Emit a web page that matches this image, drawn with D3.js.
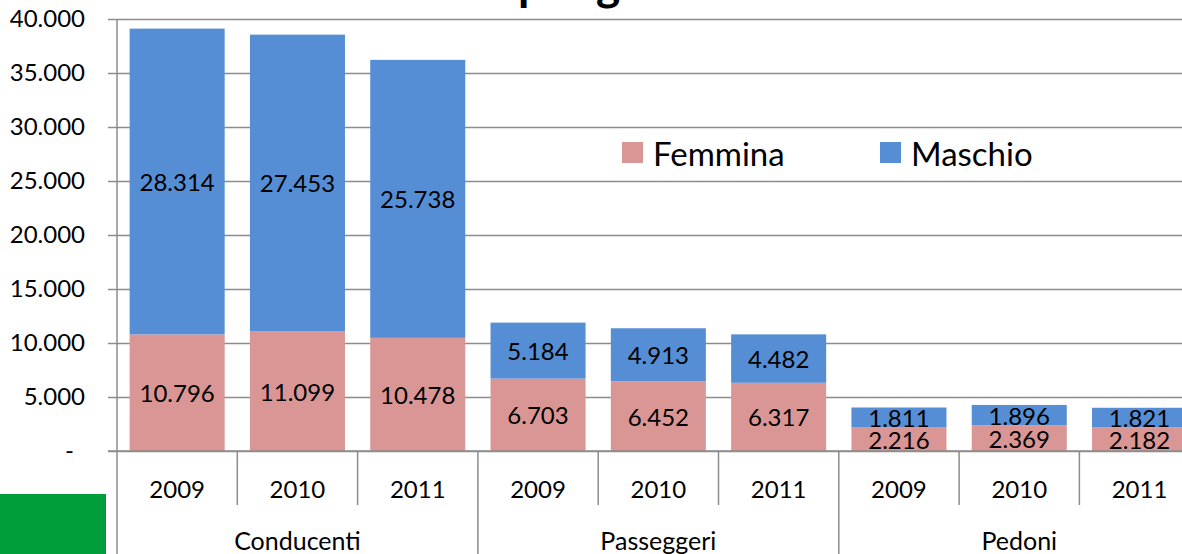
<!DOCTYPE html>
<html>
  <head>
    <meta charset="utf-8">
    <title>Feriti per genere</title>
    <script src="https://d3js.org/d3.v7.min.js"></script>
  </head>
  <style>
    body { margin: 0; background: #fff; }
    text { font-family: Lato, "Open Sans", sans-serif; fill: #000; }
    .grid-line { stroke: #8c8c8c; stroke-width: 1.5px; }
    .axis-line { stroke: #8c8c8c; stroke-width: 1.5px; }
  </style>
  <body>
    <script>
      const width = 1182;
      const height = 554;

      // data
      const groups = ["Conducenti", "Passeggeri", "Pedoni"];
      const years = ["2009", "2010", "2011"];
      const femmina = [10796, 11099, 10478, 6703, 6452, 6317, 2216, 2369, 2182];
      const maschio = [28314, 27453, 25738, 5184, 4913, 4482, 1811, 1896, 1821];
      const yTicks = [0, 5000, 10000, 15000, 20000, 25000, 30000, 35000, 40000];
      const seriesNames = ["Femmina", "Maschio"];
      const colors = ["#d99694", "#558ed5"];

      const rows = [];
      groups.forEach(function(g, gi) {
        years.forEach(function(y, yi) {
          const i = gi * years.length + yi;
          rows.push({ key: g + "-" + y, group: g, year: y, Femmina: femmina[i], Maschio: maschio[i] });
        });
      });

      const series = d3.stack().keys(seriesNames)(rows);

      const plotLeft = 117, plotRight = 1199.7, plotTop = 19, plotBottom = 451;

      const xScale = d3.scaleBand()
        .domain(rows.map(function(d) { return d.key; }))
        .range([plotLeft, plotRight])
        .paddingInner(0.21)
        .paddingOuter(0.105);
      const step = xScale.step();

      const yScale = d3.scaleLinear()
        .domain([0, 40000])
        .range([plotBottom, plotTop]);

      const it = d3.formatLocale({ decimal: ",", thousands: ".", grouping: [3], currency: ["€", ""] });
      const fmt = it.format(",d");

      const svg = d3.select("body")
        .append("svg")
          .attr("width", width)
          .attr("height", height);

      // title (mostly above the visible area)
      const title = svg.append("text")
        .attr("y", 0)
        .style("font-size", "46px")
        .style("font-weight", "bold");
      title.append("tspan").text("Feriti ");
      title.append("tspan").text("per genere");
      const pre = title.select("tspan").node().getComputedTextLength();
      title.attr("x", 518 - pre);

      // grid + y axis
      const yAxis = d3.axisLeft(yScale)
        .tickValues(yTicks)
        .tickSize(9)
        .tickPadding(23)
        .tickFormat(function(d) { return d === 0 ? "-" : fmt(d); });

      const yg = svg.append("g")
        .attr("transform", "translate(" + plotLeft + ",0)")
        .call(yAxis);
      yg.select(".domain").remove();
      yg.selectAll(".tick line").attr("stroke", "#8c8c8c").attr("stroke-width", 1.5);
      yg.selectAll(".tick text")
        .style("font-size", "24px")
        .style("font-family", "Lato, sans-serif")
        .attr("fill", "#000")
        .attr("dx", function(d) { return d === 0 ? -11 : 0; });
      yg.selectAll(".tick")
        .append("line")
          .classed("grid-line", true)
          .attr("x1", 0)
          .attr("x2", width - plotLeft);

      // bars
      const layer = svg.append("g")
        .selectAll("g")
        .data(series)
        .enter()
        .append("g")
          .attr("fill", function(d, i) { return colors[i]; });

      layer.selectAll("rect")
        .data(function(d) { return d; })
        .enter()
        .append("rect")
          .attr("x", function(d) { return xScale(d.data.key); })
          .attr("y", function(d) { return yScale(d[1]); })
          .attr("width", xScale.bandwidth())
          .attr("height", function(d) { return yScale(d[0]) - yScale(d[1]); });

      layer.selectAll("text")
        .data(function(d) { return d; })
        .enter()
        .append("text")
          .attr("x", function(d) { return xScale(d.data.key) + xScale.bandwidth() / 2; })
          .attr("y", function(d) { return (yScale(d[0]) + yScale(d[1])) / 2; })
          .attr("text-anchor", "middle")
          .attr("dominant-baseline", "central")
          .style("font-size", "24px")
          .text(function(d) { return fmt(d[1] - d[0]); });

      // x axis lines
      svg.append("line")
        .classed("axis-line", true)
        .attr("x1", plotLeft - 9).attr("x2", width)
        .attr("y1", plotBottom).attr("y2", plotBottom);
      svg.append("line")
        .classed("axis-line", true)
        .attr("x1", plotLeft).attr("x2", plotLeft)
        .attr("y1", plotTop).attr("y2", height);

      rows.forEach(function(d, i) {
        const x0 = xScale(d.key) - (step - xScale.bandwidth()) / 2;
        const isGroupStart = i % years.length === 0;
        if (i > 0) {
          svg.append("line")
            .classed("axis-line", true)
            .attr("x1", x0).attr("x2", x0)
            .attr("y1", plotBottom).attr("y2", isGroupStart ? height : 505);
        }
        svg.append("text")
          .attr("x", x0 + step / 2)
          .attr("y", 488)
          .attr("text-anchor", "middle")
          .attr("dominant-baseline", "central")
          .style("font-size", "24px")
          .text(d.year);
      });

      groups.forEach(function(g, gi) {
        const first = rows[gi * years.length].key;
        const x0 = xScale(first) - (step - xScale.bandwidth()) / 2;
        svg.append("text")
          .attr("x", x0 + step * years.length / 2)
          .attr("y", 540)
          .attr("text-anchor", "middle")
          .attr("dominant-baseline", "central")
          .style("font-size", "25px")
          .text(g);
      });

      // legend
      const legend = svg.append("g");
      const legendX = [622, 880];
      seriesNames.forEach(function(name, i) {
        legend.append("rect")
          .attr("x", legendX[i]).attr("y", 142)
          .attr("width", 21).attr("height", 21)
          .attr("fill", colors[i]);
        legend.append("text")
          .attr("x", legendX[i] + 31)
          .attr("y", 152.5)
          .attr("dominant-baseline", "central")
          .style("font-size", "33px")
          .text(name);
      });

      // green block bottom-left
      svg.append("rect")
        .attr("x", 0).attr("y", 494)
        .attr("width", 106).attr("height", height - 494)
        .attr("fill", "#009e3a");
    </script>
  </body>
</html>
